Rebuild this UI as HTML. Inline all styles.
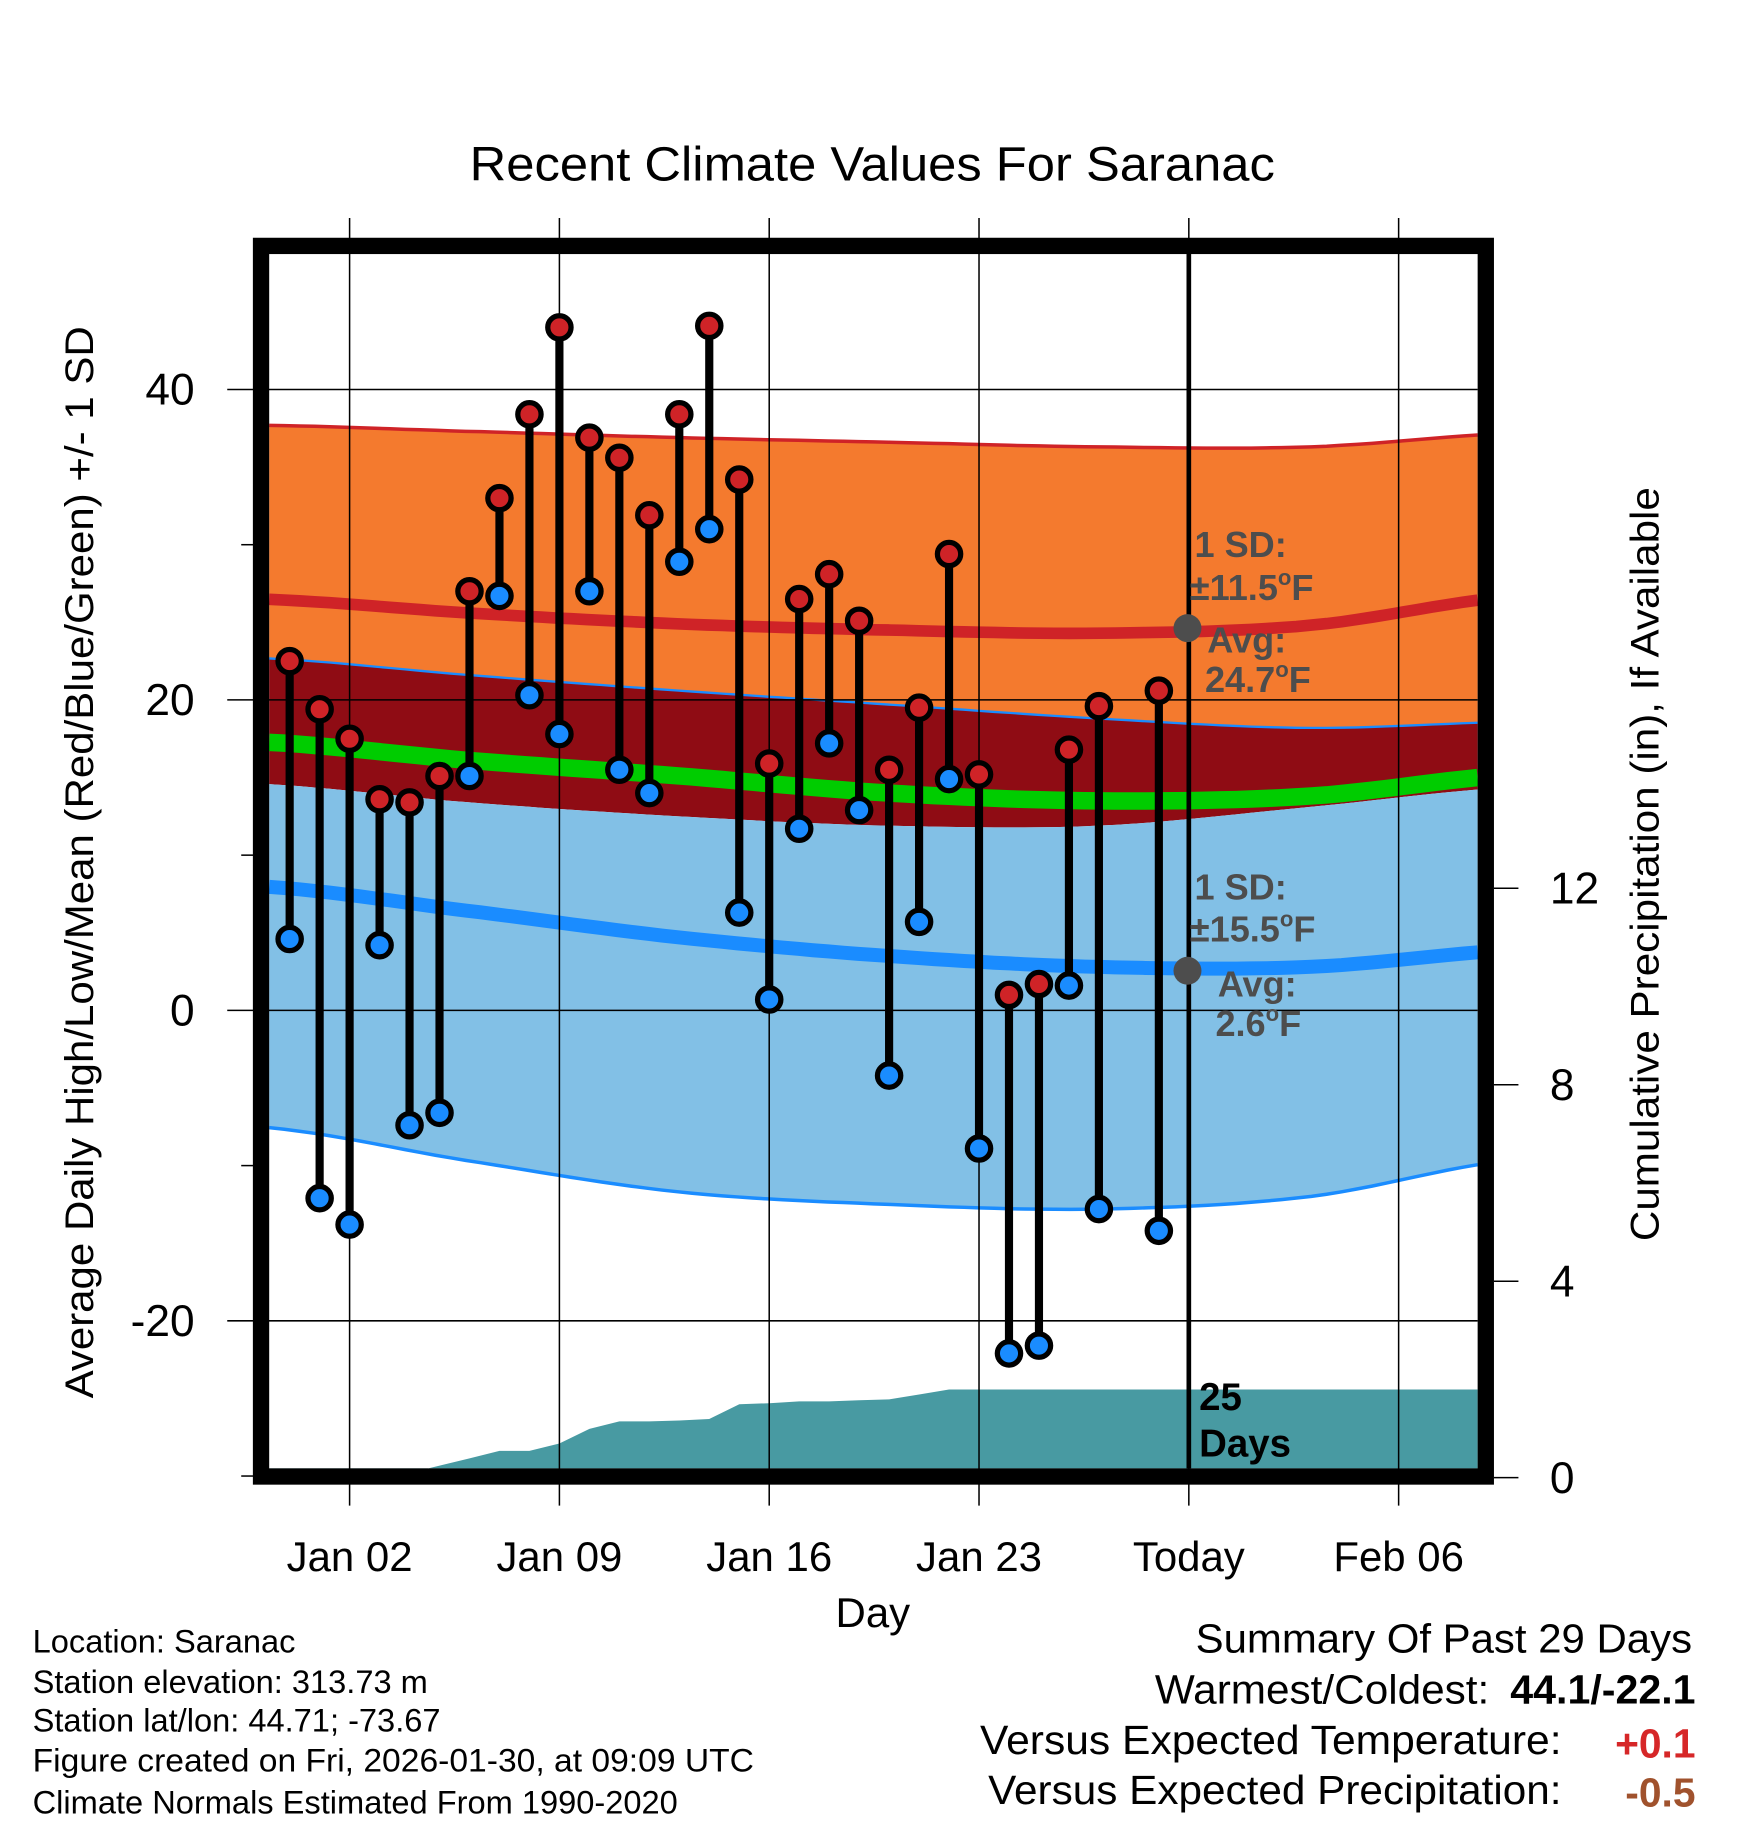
<!DOCTYPE html>
<html><head><meta charset="utf-8"><style>
html,body{margin:0;padding:0;background:#fff}
svg{display:block}
text{font-family:"Liberation Sans",Arial,sans-serif}
</style></head><body>
<svg id="chart" width="1748" height="1828" viewBox="0 0 1500 1568.6" xmlns="http://www.w3.org/2000/svg">
<g id="bands"></g><g id="precip"></g><g id="grid"></g><g id="marks"></g><g id="frame"></g><g id="labels"></g>
</svg>
<script>
// ---- data ----
const dayLabels = ["Dec 31","Jan 01","Jan 02","Jan 03","Jan 04","Jan 05","Jan 06","Jan 07","Jan 08","Jan 09","Jan 10","Jan 11","Jan 12","Jan 13","Jan 14","Jan 15","Jan 16","Jan 17","Jan 18","Jan 19","Jan 20","Jan 21","Jan 22","Jan 23","Jan 24","Jan 25","Jan 26","Jan 27","Jan 28","Jan 29"];
const highsD = [22.5,19.4,17.5,13.6,13.4,15.1,27.0,33.0,38.4,44.0,36.9,35.6,31.9,38.4,44.1,34.2,15.9,26.5,28.1,25.1,15.5,19.5,29.4,15.2,1.0,1.7,16.8,19.6,null,20.6];
const lowsD  = [4.6,-12.1,-13.8,4.2,-7.4,-6.6,15.1,26.7,20.3,17.8,27.0,15.5,14.0,28.9,31.0,6.3,0.7,11.7,17.2,12.9,-4.2,5.7,14.9,-8.9,-22.1,-21.6,1.6,-12.8,null,-14.2];
const normDays   = [-3,4,11,18,25,32,39];
const highUpper  = [37.7,37.3,36.9,36.6,36.3,36.3,37.2];
const highMean   = [26.5,25.6,24.9,24.5,24.3,24.8,26.7];
const highLower  = [22.7,21.6,20.6,19.7,18.8,18.2,18.6];
const meanTemp   = [17.3,16.1,15.1,14.0,13.5,13.8,15.2];
const lowUpper   = [14.6,13.4,12.5,11.9,11.9,13.1,14.4];
const lowMean    = [8.0,6.4,4.7,3.5,2.8,2.8,3.9];
const lowLower   = [-7.5,-9.7,-11.7,-12.5,-12.8,-12.0,-9.6];
const precip = [0,0,0,0,0,0.15,0.3,0.45,0.45,0.6,0.9,1.05,1.05,1.07,1.1,1.4,1.42,1.46,1.46,1.48,1.5,1.6,1.7,1.7,1.7,1.7,1.7,1.7,1.7,1.7,1.7];
const yTicks = [40,20,0,-20];
const yMinor = [30,10,-10,-30];
const pTicks = [0,4,8,12];
const xTickDays = [0,7,14,21,28,35];
const xTickLabels = ["Jan 02","Jan 09","Jan 16","Jan 23","Today","Feb 06"];

const X0=231,X1=1268,Y0=215,Y1=1260;
const xDay = d => 300 + d*25.72;
const yT = t => 867 - t*13.32;
const yP = p => 1264 - p*42.15;
const NS="http://www.w3.org/2000/svg";
function mk(tag,attrs,parent,txt){const e=document.createElementNS(NS,tag);for(const k in attrs)e.setAttribute(k,attrs[k]);if(txt!==undefined)e.textContent=txt;parent.appendChild(e);return e;}
const G=id=>document.getElementById(id);
function smooth(vals){
  const xs=normDays.map(xDay), ys=vals.map(yT), n=xs.length;
  const f=x=>{let i=0;while(i<n-2&&x>xs[i+1])i++;
    const t=(x-xs[i])/(xs[i+1]-xs[i]);
    const p0=ys[Math.max(0,i-1)],p1=ys[i],p2=ys[i+1],p3=ys[Math.min(n-1,i+2)];
    const t2=t*t,t3=t2*t;
    return 0.5*((2*p1)+(-p0+p2)*t+(2*p0-5*p1+4*p2-p3)*t2+(-p0+3*p1-3*p2+p3)*t3);};
  const r=[];const N=80;for(let k=0;k<=N;k++){const x=X0+(X1-X0)*k/N;r.push([x,f(x)]);}return r;}
const P=a=>a.map(p=>p[0].toFixed(1)+","+p[1].toFixed(1)).join(" ");
function band(up,lo,fill,name){const u=smooth(up),l=smooth(lo).reverse();
  const e=mk('polygon',{points:P(u.concat(l)),fill:fill},G('bands'));
  
  }
function line(vals,col,w,name){const e=mk('polyline',{points:P(smooth(vals)),fill:'none',stroke:col,'stroke-width':w},G('bands'));
  
  }
band(highUpper,highLower,'#f47a2e','high-sd-band');
band(highLower,lowUpper,'#8f0c14','mid-band');
band(lowUpper,lowLower,'#82c0e6','low-sd-band');
line(highUpper,'#cf2327',3,'high-upper-edge');
line(highLower,'#1a8cff',2,'high-lower-edge');
line(lowLower,'#1a8cff',3,'low-lower-edge');
line(highMean,'#cf2327',10,'high-mean-line');
line(meanTemp,'#00cc00',15,'mean-line');
line(lowMean,'#1a8cff',12,'low-mean-line');

{const pts=[[X0,yP(0)]];precip.forEach((p,i)=>{const x=xDay(i-2);if(x>=X0)pts.push([x,yP(p)]);});
 pts.push([X1,yP(precip[precip.length-1])]);pts.push([X1,Y1]);pts.push([X0,Y1]);
 const e=mk('polygon',{points:P(pts),fill:'#489aa2'},G('precip'));
 
 }

const g=G('grid');
yTicks.forEach(t=>{const e=mk('line',{x1:195,x2:X1,y1:yT(t),y2:yT(t),stroke:'#000','stroke-width':1.3},g);
 
 
 const l=mk('text',{x:167,y:yT(t)+13,'font-size':38,'text-anchor':'end'},G('labels'),String(t));
 
 });
yMinor.forEach(t=>{const e=mk('line',{x1:207,x2:218,y1:yT(t),y2:yT(t),stroke:'#000','stroke-width':1.3},g);
 
 });
pTicks.forEach(p=>{const y=p===0?1268:yP(p)+4;const e=mk('line',{x1:1282,x2:1303,y1:y,y2:y,stroke:'#000','stroke-width':1.3},g);
 
 
 const l=mk('text',{x:1330,y:y+13,'font-size':38},G('labels'),String(p));
 
 });
xTickDays.forEach((d,i)=>{const x=xDay(d);const e=mk('line',{x1:x,x2:x,y1:187,y2:1292,stroke:'#000','stroke-width':1.3},g);
 
 
 const l=mk('text',{x:x,y:1348,'font-size':36,'text-anchor':'middle'},G('labels'),xTickLabels[i]);
 
 });
{const e=mk('line',{x1:xDay(28),x2:xDay(28),y1:Y0,y2:Y1,stroke:'#000','stroke-width':4},g);
 
 }

const m=G('marks');
dayLabels.forEach((lab,i)=>{const h=highsD[i],lo=lowsD[i];if(h==null)return;const x=xDay(i-2);
 const s=mk('line',{x1:x,x2:x,y1:yT(h),y2:yT(lo),stroke:'#000','stroke-width':7},m);
 
 
 const c1=mk('circle',{cx:x,cy:yT(lo),r:10,fill:'#1a8cff',stroke:'#000','stroke-width':4.5},m);
 
 
 const c2=mk('circle',{cx:x,cy:yT(h),r:10,fill:'#cf2327',stroke:'#000','stroke-width':4.5},m);
 
 });

{const f=G('frame');
 const r=mk('rect',{x:224,y:211,width:1051,height:1056,fill:'none',stroke:'#000','stroke-width':14},f);
 
 
 [[539,'sd-high-dot'],[833,'sd-low-dot']].forEach(d=>{const c=mk('circle',{cx:1019,cy:d[0],r:12,fill:'#4d4d4d'},f);
  
  });}
</script>
<svg style="position:absolute;left:0;top:0" width="1748" height="1828" viewBox="0 0 1500 1568.6" xmlns="http://www.w3.org/2000/svg">
<g font-family="Liberation Sans, Arial, sans-serif">
<text x="403" y="155" font-size="41" textLength="691" lengthAdjust="spacingAndGlyphs">Recent Climate Values For Saranac</text>
<text transform="translate(80,1200) rotate(-90)" font-size="34" textLength="920" lengthAdjust="spacingAndGlyphs">Average Daily High/Low/Mean (Red/Blue/Green) +/- 1 SD</text>
<text transform="translate(1423,1065) rotate(-90)" font-size="34" textLength="647" lengthAdjust="spacingAndGlyphs">Cumulative Precipitation (in), If Available</text>
<text x="749" y="1396" font-size="36" text-anchor="middle">Day</text>
<g fill="#4d4d4d" font-weight="bold" font-size="31">
<text x="1025" y="478">1 SD:</text>
<text x="1021" y="515">±11.5<tspan font-size="19" dy="-13">o</tspan><tspan dy="13">F</tspan></text>
<text x="1036" y="560">Avg:</text>
<text x="1034" y="594">24.7<tspan font-size="19" dy="-13">o</tspan><tspan dy="13">F</tspan></text>
<text x="1025" y="772">1 SD:</text>
<text x="1021" y="808">±15.5<tspan font-size="19" dy="-13">o</tspan><tspan dy="13">F</tspan></text>
<text x="1045" y="855">Avg:</text>
<text x="1043" y="889">2.6<tspan font-size="19" dy="-13">o</tspan><tspan dy="13">F</tspan></text>
</g>
<text x="1029" y="1210" font-size="33" font-weight="bold">25</text>
<text x="1029" y="1250" font-size="33" font-weight="bold">Days</text>
<g font-size="28">
<text x="28" y="1418">Location: Saranac</text>
<text x="28" y="1453">Station elevation: 313.73 m</text>
<text x="28" y="1486">Station lat/lon: 44.71; -73.67</text>
<text x="28" y="1520" textLength="619" lengthAdjust="spacingAndGlyphs">Figure created on Fri, 2026-01-30, at 09:09 UTC</text>
<text x="28" y="1556">Climate Normals Estimated From 1990-2020</text>
</g>
<g font-size="35">
<text x="1026" y="1418" textLength="426" lengthAdjust="spacingAndGlyphs">Summary Of Past 29 Days</text>
<text x="991" y="1462" textLength="287" lengthAdjust="spacingAndGlyphs">Warmest/Coldest:</text>
<text x="1296" y="1462" font-weight="bold" textLength="159" lengthAdjust="spacingAndGlyphs">44.1/-22.1</text>
<text x="841" y="1505" textLength="499" lengthAdjust="spacingAndGlyphs">Versus Expected Temperature:</text>
<text x="1455" y="1508" text-anchor="end" font-weight="bold" fill="#d62728">+0.1</text>
<text x="848" y="1548" textLength="492" lengthAdjust="spacingAndGlyphs">Versus Expected Precipitation:</text>
<text x="1455" y="1550" text-anchor="end" font-weight="bold" fill="#a0522d">-0.5</text>
</g>
</g>
</svg>
</body></html>
